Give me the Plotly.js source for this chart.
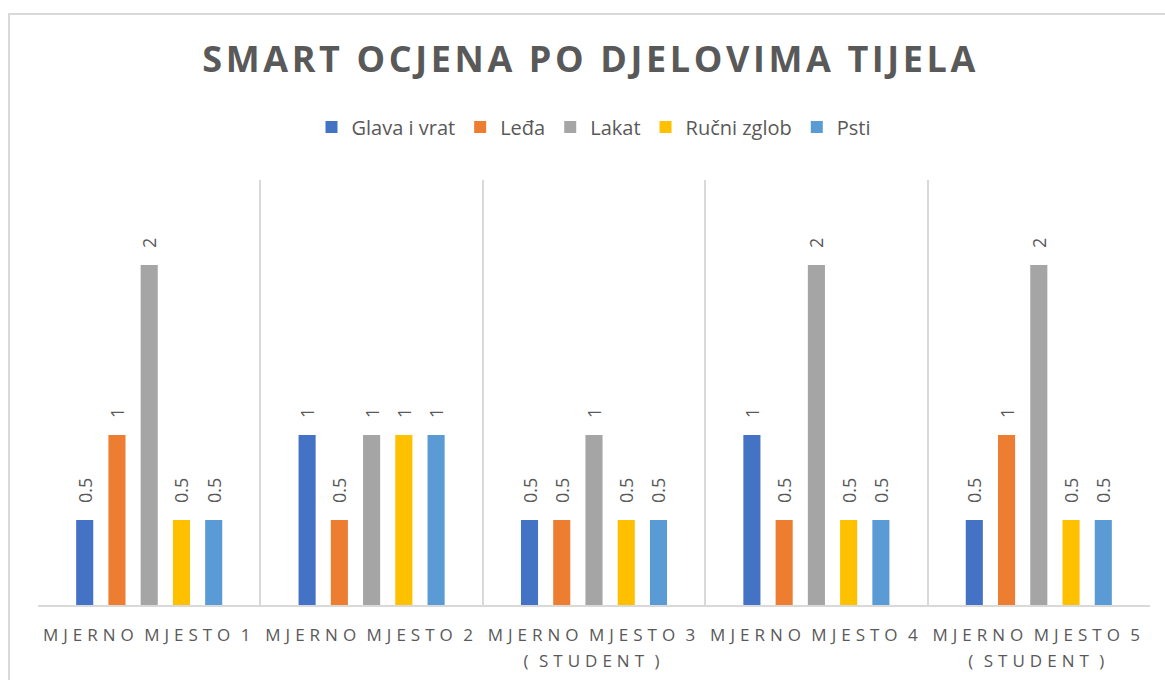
<!DOCTYPE html>
<html>
<head>
<meta charset="utf-8">
<script src="https://cdn.plot.ly/plotly-3.0.1.min.js"></script>
<style>
  html, body { margin: 0; padding: 0; background: #fff; }
  #wrap { position: relative; width: 1165px; height: 680px; overflow: hidden; }
  #chart { width: 1165px; height: 680px; }
  #frame { position: absolute; left: 8px; top: 13px; width: 1170px; height: 700px;
           border: 2px solid #d9d9d9; box-sizing: border-box; pointer-events: none; }
  .gtitle { letter-spacing: 3.6px; }
  .xtick text { letter-spacing: 5px; word-spacing: -4px; }
</style>
</head>
<body>
<div id="wrap">
  <div id="chart"></div>
  <div id="frame"></div>
</div>
<script>
const categories = [
  "MJERNO MJESTO 1",
  "MJERNO MJESTO 2",
  "MJERNO MJESTO 3<br>( STUDENT )",
  "MJERNO MJESTO 4",
  "MJERNO MJESTO 5<br>( STUDENT )"
];
const seriesNames = ["Glava i vrat", "Leđa", "Lakat", "Ručni zglob", "Psti"];
const glavaIVrat = [0.5, 1, 0.5, 1, 0.5];
const leda       = [1, 0.5, 0.5, 0.5, 1];
const lakat      = [2, 1, 1, 2, 2];
const rucniZglob = [0.5, 1, 0.5, 0.5, 0.5];
const psti       = [0.5, 1, 0.5, 0.5, 0.5];
const colors = ["#4472C4", "#ED7D31", "#A5A5A5", "#FFC000", "#5B9BD5"];

const values = [glavaIVrat, leda, lakat, rucniZglob, psti];
const traces = values.map((v, i) => ({
  type: "bar",
  name: seriesNames[i],
  x: categories,
  y: v,
  marker: { color: colors[i] },
  texttemplate: "\u00a0\u00a0\u00a0%{y}",
  textposition: "outside",
  textangle: -90,
  constraintext: "none",
  textfont: { family: "Open Sans, sans-serif", size: 18, color: "#595959" },
  cliponaxis: false,
  hoverinfo: "none"
}));

const layout = {
  width: 1165,
  height: 680,
  paper_bgcolor: "#ffffff",
  plot_bgcolor: "#ffffff",
  margin: { l: 38, r: 15, t: 180, b: 75 },
  font: { family: "Open Sans, sans-serif", color: "#595959" },
  title: {
    text: "SMART OCJENA PO DJELOVIMA TIJELA",
    font: { family: "Open Sans, sans-serif", size: 36, color: "#595959", weight: "bold" },
    x: 0.507, xanchor: "center",
    y: 0.912, yanchor: "middle"
  },
  barmode: "group",
  bargap: 0.275,
  bargroupgap: 0.47,
  showlegend: true,
  legend: {
    orientation: "h",
    x: 0.5, xanchor: "center",
    y: 1.125, yanchor: "middle",
    font: { family: "Open Sans, sans-serif", size: 20, color: "#595959" },
    traceorder: "normal"
  },
  xaxis: {
    type: "category",
    tickson: "boundaries",
    showgrid: true,
    gridcolor: "#d9d9d9",
    gridwidth: 2,
    showline: true,
    linecolor: "#d9d9d9",
    linewidth: 2,
    ticks: "",
    ticklabelstandoff: 14,
    tickfont: { family: "Open Sans, sans-serif", size: 17, color: "#595959" },
    zeroline: false,
    fixedrange: true
  },
  yaxis: {
    range: [0, 2.5],
    visible: false,
    showgrid: false,
    zeroline: false,
    fixedrange: true
  }
};

Plotly.newPlot("chart", traces, layout, { displayModeBar: false, staticPlot: true })
  .then(() => {
    document.querySelectorAll("#chart .xtick text tspan.line").forEach((t) => {
      if (t.getAttribute("dy") && t.getAttribute("dy") !== "0em") t.setAttribute("dy", "1.5em");
    });
  });
</script>
</body>
</html>
